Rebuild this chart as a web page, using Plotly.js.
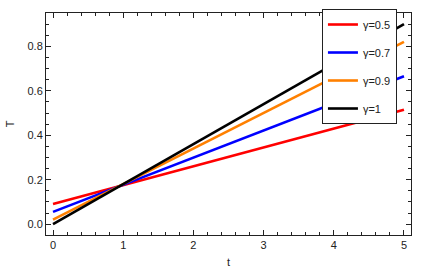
<!DOCTYPE html>
<html><head><meta charset="utf-8">
<script src="https://cdn.plot.ly/plotly-3.0.1.min.js"></script>
<style>html,body{margin:0;padding:0;background:#fff}#c{width:425px;height:270px}</style>
</head><body><div id="c"></div>
<script>
const t = [0, 5];
const T05 = [0.09, 0.515];
const T07 = [0.055, 0.665];
const T09 = [0.02, 0.82];
const T10 = [0.0, 0.9];
const names = ['γ=0.5', 'γ=0.7', 'γ=0.9', 'γ=1'];
const colors = ['#ff0000', '#0000ff', '#ff8000', '#000000'];
const series = [T05, T07, T09, T10];
const xTicks = [0, 1, 2, 3, 4, 5];
const yTicks = [0.0, 0.2, 0.4, 0.6, 0.8];

const traces = series.map((s, i) => ({
  x: t, y: s, type: 'scatter', mode: 'lines', name: names[i],
  legendgroup: 'g' + i,
  line: {color: colors[i], width: 2.6}
}));

const axisCommon = {
  showgrid: false, zeroline: false, showline: true, mirror: 'allticks',
  linecolor: '#222', linewidth: 1, ticks: 'inside', ticklen: 5, tickcolor: '#222',
  tickfont: {family: 'Liberation Sans, Arial, sans-serif', size: 11, color: '#222'}
};

const layout = {
  width: 425, height: 270,
  margin: {l: 46, r: 14, t: 9, b: 35},
  paper_bgcolor: '#fff', plot_bgcolor: '#fff',
  font: {family: 'Liberation Sans, Arial, sans-serif', size: 11, color: '#222'},
  xaxis: Object.assign({}, axisCommon, {
    range: [-0.1, 5.1], tickvals: xTicks, ticktext: xTicks.map(v => String(v)),
    minor: {dtick: 0.2, ticks: 'inside', ticklen: 3, tickcolor: '#222', showgrid: false},
    title: {text: 't', standoff: 8, font: {size: 11}}
  }),
  yaxis: Object.assign({}, axisCommon, {
    range: [-0.049, 0.95], tickvals: yTicks, ticktext: yTicks.map(v => v.toFixed(1)),
    minor: {dtick: 0.05, ticks: 'inside', ticklen: 3, tickcolor: '#222', showgrid: false},
    title: {text: 'T', standoff: 10, font: {size: 11}}
  }),
  showlegend: true,
  legend: {
    x: 0.756, y: 1.018, xanchor: 'left', yanchor: 'top',
    bgcolor: '#fff', bordercolor: '#222', borderwidth: 1,
    traceorder: 'grouped', tracegroupgap: 9,
    font: {size: 11, color: '#222'}
  }
};

Plotly.newPlot('c', traces, layout, {displayModeBar: false, staticPlot: true});
</script></body></html>
